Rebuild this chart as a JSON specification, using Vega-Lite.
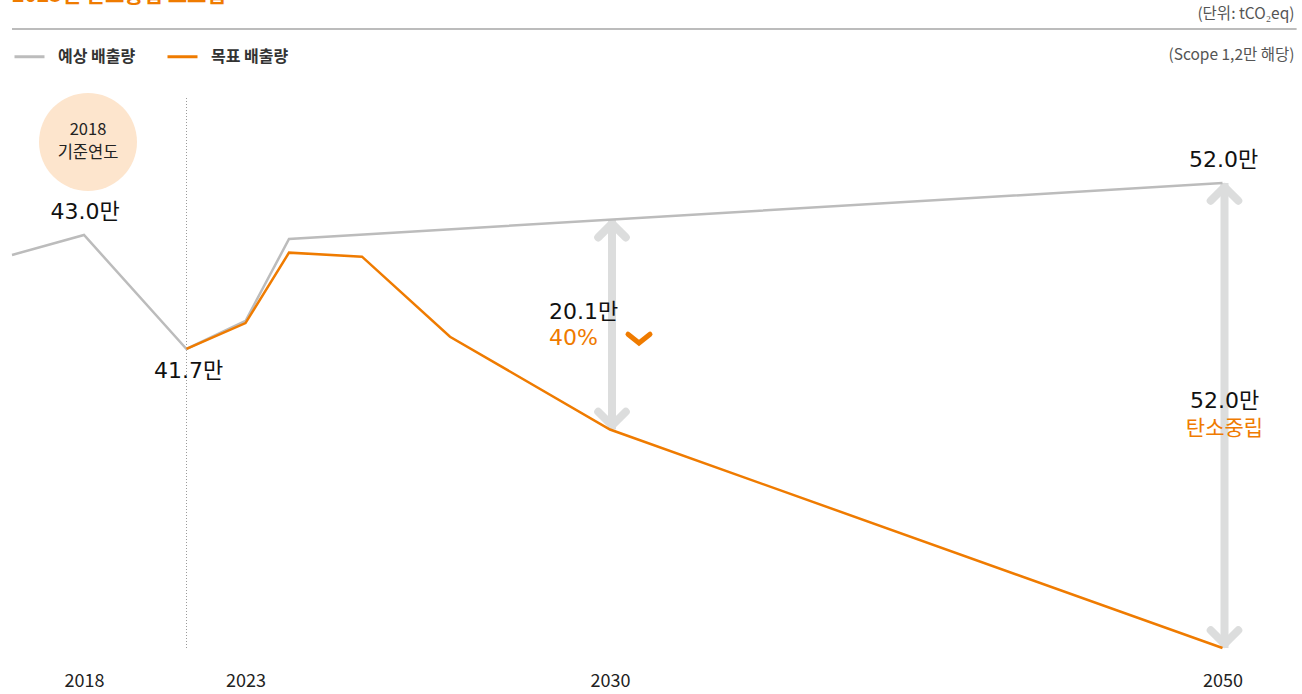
{
  "$schema": "https://vega.github.io/schema/vega-lite/v6.json",
  "width": 1302,
  "height": 694,
  "autosize": {"type": "none"},
  "padding": 0,
  "background": "white",
  "config": {
    "view": {"stroke": null},
    "font": "Noto Sans CJK KR",
    "text": {"font": "Noto Sans CJK KR"}
  },
  "datasets": {
    "lines": [
      {"year": 2017, "series": "예상 배출량", "value": 43.95},
      {"year": 2018, "series": "예상 배출량", "value": 46.19},
      {"year": 2022, "series": "예상 배출량", "value": 33.44},
      {"year": 2023, "series": "예상 배출량", "value": 36.57},
      {"year": 2024, "series": "예상 배출량", "value": 45.74},
      {"year": 2050, "series": "예상 배출량", "value": 52.0},
      {"year": 2022, "series": "목표 배출량", "value": 33.44},
      {"year": 2023, "series": "목표 배출량", "value": 36.34},
      {"year": 2024, "series": "목표 배출량", "value": 44.21},
      {"year": 2025, "series": "목표 배출량", "value": 43.76},
      {"year": 2026, "series": "목표 배출량", "value": 34.81},
      {"year": 2030, "series": "목표 배출량", "value": 24.43},
      {"year": 2050, "series": "목표 배출량", "value": 0}
    ],
    "gaps": [
      {"year": 2030, "expected": 47.9, "target": 24.43, "diff": "20.1만", "note": "40%"},
      {"year": 2050, "expected": 52.0, "target": 0, "diff": "52.0만", "note": "탄소중립"}
    ]
  },
  "layer": [
    {
      "data": {"values": [{}]},
      "mark": {"type": "rule", "color": "#a6a6a6", "strokeWidth": 1.5},
      "encoding": {
        "x": {"datum": 2017, "type": "quantitative", "scale": {"domain": [2017, 2018, 2022, 2023, 2024, 2025, 2026, 2030, 2050], "range": [12, 84, 186.5, 245.5, 289, 362, 450, 610, 1222.5], "nice": false, "zero": false}, "axis": {"values": [2018, 2023, 2030, 2050], "title": null, "domain": false, "ticks": false, "grid": false, "offset": -34, "labelPadding": 12, "labelFontSize": 18, "labelColor": "#222", "labelFont": "Noto Sans CJK KR", "format": "d", "labelFlush": false}},
        "x2": {"datum": 2052.42},
        "y": {"datum": 69.22, "type": "quantitative", "scale": {"domain": [0, 52], "range": [648, 183], "nice": false, "zero": false}, "axis": null}
      }
    },
    {
      "data": {"values": [{"text": "2023년 탄소중립 로드맵"}]},
      "mark": {"type": "text", "align": "left", "baseline": "alphabetic", "fontSize": 21, "fontWeight": "bold", "color": "#ef7b00"},
      "encoding": {"x": {"datum": 2017}, "y": {"datum": 72.25}, "text": {"field": "text"}}
    },
    {
      "data": {"values": [{"text": "(단위: tCO₂eq)"}]},
      "mark": {"type": "text", "align": "right", "baseline": "middle", "fontSize": 15.5, "color": "#555", "dx": 72},
      "encoding": {"x": {"datum": 2050}, "y": {"datum": 70.9}, "text": {"field": "text"}}
    },
    {
      "data": {"values": [{"text": "(Scope 1,2만 해당)"}]},
      "mark": {"type": "text", "align": "right", "baseline": "middle", "fontSize": 15.5, "color": "#555", "dx": 72},
      "encoding": {"x": {"datum": 2050}, "y": {"datum": 66.31}, "text": {"field": "text"}}
    },
    {
      "data": {"values": [{}]},
      "mark": {"type": "rule", "color": "#9a9a9a", "strokeWidth": 1, "strokeDash": [1, 2]},
      "encoding": {"x": {"datum": 2022}, "y": {"datum": 0}, "y2": {"datum": 61.71}}
    },
    {
      "data": {"values": [{"year": 2018, "value": 46.19, "top": "2018", "bottom": "기준연도"}]},
      "layer": [
        {
          "mark": {"type": "point", "shape": "circle", "filled": true, "size": 9604, "color": "#fde5cd", "opacity": 1, "xOffset": 4, "yOffset": -93},
          "encoding": {"x": {"field": "year", "type": "quantitative"}, "y": {"field": "value", "type": "quantitative"}}
        },
        {
          "mark": {"type": "text", "align": "center", "baseline": "middle", "fontSize": 16.5, "color": "#222", "dx": 4, "dy": -105},
          "encoding": {"x": {"field": "year", "type": "quantitative"}, "y": {"field": "value", "type": "quantitative"}, "text": {"field": "top"}}
        },
        {
          "mark": {"type": "text", "align": "center", "baseline": "middle", "fontSize": 16.5, "color": "#222", "dx": 4, "dy": -82},
          "encoding": {"x": {"field": "year", "type": "quantitative"}, "y": {"field": "value", "type": "quantitative"}, "text": {"field": "bottom"}}
        }
      ]
    },
    {
      "data": {"name": "gaps"},
      "layer": [
        {
          "mark": {"type": "rule", "color": "#dcdddd", "strokeWidth": 8, "strokeCap": "butt", "xOffset": 2},
          "encoding": {"x": {"field": "year", "type": "quantitative"}, "y": {"field": "expected", "type": "quantitative"}, "y2": {"field": "target"}}
        },
        {
          "mark": {"type": "point", "shape": "M-1,1L0,0L1,1", "filled": false, "size": 760, "stroke": "#dcdddd", "strokeWidth": 8, "strokeCap": "round", "strokeJoin": "round", "opacity": 1, "xOffset": 2, "yOffset": 4},
          "encoding": {"x": {"field": "year", "type": "quantitative"}, "y": {"field": "expected", "type": "quantitative"}}
        },
        {
          "mark": {"type": "point", "shape": "M-1,-1L0,0L1,-1", "filled": false, "size": 760, "stroke": "#dcdddd", "strokeWidth": 8, "strokeCap": "round", "strokeJoin": "round", "opacity": 1, "xOffset": 2, "yOffset": -4},
          "encoding": {"x": {"field": "year", "type": "quantitative"}, "y": {"field": "target", "type": "quantitative"}}
        }
      ]
    },
    {
      "data": {"name": "lines"},
      "mark": {"type": "line", "strokeWidth": 2.5, "strokeJoin": "miter"},
      "encoding": {
        "x": {"field": "year", "type": "quantitative"},
        "y": {"field": "value", "type": "quantitative"},
        "color": {"field": "series", "type": "nominal", "sort": null, "scale": {"domain": ["예상 배출량", "목표 배출량"], "range": ["#bcbcbc", "#ef7b00"]}, "legend": {"orient": "none", "legendX": 13, "legendY": 40, "direction": "horizontal", "title": null, "symbolType": "stroke", "symbolSize": 900, "symbolStrokeWidth": 3, "labelFontSize": 16, "labelFontWeight": "bold", "labelColor": "#333", "labelFont": "Noto Sans CJK KR", "labelOffset": 12, "columnPadding": 25, "padding": 0}},
        "order": {"field": "series", "sort": "descending"}
      }
    },
    {
      "data": {"values": [{"year": 2018, "value": 46.19, "label": "43.0만"}, {"year": 2050, "value": 52.0, "label": "52.0만"}]},
      "mark": {"type": "text", "align": "center", "baseline": "middle", "font": "DejaVu Sans, Noto Sans CJK KR", "fontSize": 22, "color": "#111", "dx": 1, "dy": -23},
      "encoding": {"x": {"field": "year", "type": "quantitative"}, "y": {"field": "value", "type": "quantitative"}, "text": {"field": "label"}}
    },
    {
      "data": {"values": [{"year": 2022, "value": 33.44, "label": "41.7만"}]},
      "mark": {"type": "text", "align": "center", "baseline": "middle", "font": "DejaVu Sans, Noto Sans CJK KR", "fontSize": 22, "color": "#111", "dx": 2, "dy": 22},
      "encoding": {"x": {"field": "year", "type": "quantitative"}, "y": {"field": "value", "type": "quantitative"}, "text": {"field": "label"}}
    },
    {
      "data": {"name": "gaps"},
      "transform": [{"filter": "datum.year == 2030"}],
      "layer": [
        {
          "mark": {"type": "text", "align": "left", "baseline": "middle", "font": "DejaVu Sans, Noto Sans CJK KR", "fontSize": 22, "color": "#111", "dx": -61, "dy": 92},
          "encoding": {"x": {"field": "year", "type": "quantitative"}, "y": {"field": "expected", "type": "quantitative"}, "text": {"field": "diff"}}
        },
        {
          "mark": {"type": "text", "align": "left", "baseline": "middle", "font": "DejaVu Sans, Noto Sans CJK KR", "fontSize": 22, "color": "#ef7b00", "dx": -61, "dy": 118},
          "encoding": {"x": {"field": "year", "type": "quantitative"}, "y": {"field": "expected", "type": "quantitative"}, "text": {"field": "note"}}
        },
        {
          "mark": {"type": "point", "shape": "M-1,-0.4L0,0.4L1,-0.4", "filled": false, "size": 484, "stroke": "#ef7b00", "strokeWidth": 5, "strokeCap": "round", "strokeJoin": "miter", "opacity": 1, "xOffset": 29, "yOffset": 119},
          "encoding": {"x": {"field": "year", "type": "quantitative"}, "y": {"field": "expected", "type": "quantitative"}}
        }
      ]
    },
    {
      "data": {"name": "gaps"},
      "transform": [{"filter": "datum.year == 2050"}],
      "layer": [
        {
          "mark": {"type": "text", "align": "center", "baseline": "middle", "font": "DejaVu Sans, Noto Sans CJK KR", "fontSize": 22, "color": "#111", "dx": 2, "dy": -247},
          "encoding": {"x": {"field": "year", "type": "quantitative"}, "y": {"field": "target", "type": "quantitative"}, "text": {"field": "diff"}}
        },
        {
          "mark": {"type": "text", "align": "center", "baseline": "middle", "fontSize": 21, "color": "#ef7b00", "dx": 2, "dy": -219},
          "encoding": {"x": {"field": "year", "type": "quantitative"}, "y": {"field": "target", "type": "quantitative"}, "text": {"field": "note"}}
        }
      ]
    }
  ]
}
